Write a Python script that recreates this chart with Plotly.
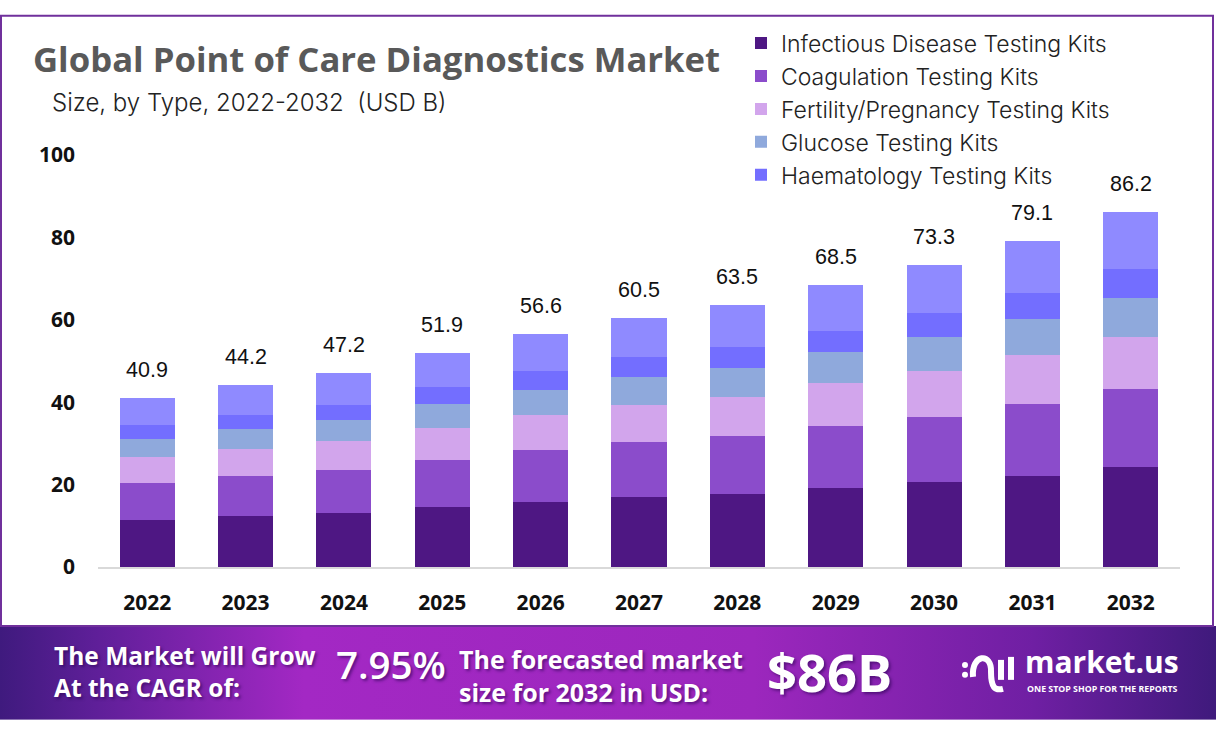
import base64
import plotly.graph_objects as go

W, H = 1216, 732
PL, PR, PT, PB = 98, 1180, 154.5, 567

years = ["2022", "2023", "2024", "2025", "2026", "2027", "2028", "2029", "2030", "2031", "2032"]
totals = [40.9, 44.2, 47.2, 51.9, 56.6, 60.5, 63.5, 68.5, 73.3, 79.1, 86.2]
infectious = [11.4, 12.4, 13.1, 14.5, 15.8, 17.0, 17.7, 19.2, 20.6, 22.1, 24.2]
coagulation = [9.0, 9.7, 10.4, 11.4, 12.6, 13.3, 14.1, 15.0, 15.8, 17.5, 18.9]
fertility = [6.3, 6.5, 7.0, 7.8, 8.5, 9.0, 9.5, 10.4, 11.2, 11.9, 12.8]
glucose = [4.4, 4.8, 5.3, 5.8, 6.1, 6.8, 7.0, 7.5, 8.2, 8.7, 9.5]
haematology = [3.4, 3.6, 3.6, 4.1, 4.6, 4.8, 5.1, 5.3, 5.8, 6.3, 7.0]
other = [6.4, 7.2, 7.8, 8.3, 9.0, 9.6, 10.1, 11.1, 11.7, 12.6, 13.8]

series = [
    ("Infectious Disease Testing Kits", infectious, "#4e1783", True),
    ("Coagulation Testing Kits", coagulation, "#8b4ccb", True),
    ("Fertility/Pregnancy Testing Kits", fertility, "#d2a5ec", True),
    ("Glucose Testing Kits", glucose, "#8fa9dc", True),
    ("Haematology Testing Kits", haematology, "#736eff", True),
    ("Other", other, "#8f8aff", False),
]


def px(x):
    return (x - PL) / (PR - PL)


def py(y):
    return (PB - y) / (PB - PT)


fig = go.Figure()
for name, vals, color, show in series:
    fig.add_trace(go.Bar(x=years, y=vals, name=name, marker=dict(color=color, line=dict(width=0)),
                         showlegend=show))

annotations = []
for i, tot in enumerate(totals):
    annotations.append(dict(x=i, y=tot, xref="x", yref="y", text=str(tot), showarrow=False,
                            yshift=28, font=dict(family="Liberation Sans", size=21.5, color="#111111")))


def note(x, y, text, size, family="Open Sans", color="#ffffff", weight=700, anchor="left", shadow=None):
    annotations.append(dict(x=px(x), y=py(y), xref="paper", yref="paper", text=text, showarrow=False,
                            xanchor=anchor, yanchor="middle", align="left", borderpad=0, borderwidth=0,
                            font=dict(family=family, size=size, color=color, weight=weight,
                                      **({"shadow": shadow} if shadow else {}))))


SH = "2px 2px 3px rgba(40,0,80,0.55)"
note(52, 102, "Size, by Type, 2022-2032  (USD B)", 24, "Inter", "#222222", 300)
note(54, 672, "The Market will Grow<br>At the CAGR of:", 24.5, shadow=SH)
note(336, 664, "7.95%", 38.5, weight=600, shadow=SH)
note(459, 676, "The forecasted market<br>size for 2032 in USD:", 25, shadow=SH)
note(767, 672, "$86B", 52.5, weight=700, shadow=SH)
note(1025, 662, "market.us", 30, weight=700)
note(1027, 689, "ONE STOP SHOP FOR THE REPORTS", 8.8, weight=700)

svg = (
    '<svg xmlns="http://www.w3.org/2000/svg" width="1216" height="94" preserveAspectRatio="none">'
    '<defs><linearGradient id="g" x1="0" x2="1" y1="0" y2="0">'
    '<stop offset="0" stop-color="#3f1a7e"/><stop offset="0.08" stop-color="#5f1f99"/>'
    '<stop offset="0.25" stop-color="#a328c4"/><stop offset="0.62" stop-color="#9c27bd"/>'
    '<stop offset="0.85" stop-color="#6f1fa3"/><stop offset="1" stop-color="#3f1a7c"/>'
    '</linearGradient></defs><rect width="1216" height="94" fill="url(#g)"/></svg>'
)
banner = "data:image/svg+xml;base64," + base64.b64encode(svg.encode()).decode()


def P(x, y):
    return f"{px(x):.5f},{py(y):.5f}"


shapes = [
    dict(type="rect", xref="paper", yref="paper", x0=px(1), x1=px(1213), y0=py(15), y1=py(626),
         line=dict(color="#70309c", width=2), fillcolor="rgba(0,0,0,0)", layer="below"),
]
logo_paths = [
    f"M{P(973, 677)} C{P(971, 654)} {P(992, 652)} {P(991, 672)} C{P(991, 688)} {P(995, 691)} {P(1003, 689)}",
    f"M{P(1001, 660)} L{P(1001, 680)}",
    f"M{P(1011, 657)} L{P(1011, 680)}",
]
for d in logo_paths:
    shapes.append(dict(type="path", xref="paper", yref="paper", path=d,
                       line=dict(color="#ffffff", width=6)))
for cy in (665, 675):
    shapes.append(dict(type="circle", xref="paper", yref="paper", x0=px(962), x1=px(968),
                       y0=py(cy - 3), y1=py(cy + 3), fillcolor="#ffffff", line=dict(width=0)))

fig.update_layout(
    width=W, height=H, autosize=False,
    margin=dict(l=PL, r=W - PR, t=PT, b=H - PB),
    paper_bgcolor="#ffffff", plot_bgcolor="#ffffff",
    barmode="stack", bargap=0.44,
    title=dict(text="Global Point of Care Diagnostics Market", x=33 / W, xref="container", xanchor="left",
               y=1 - 60 / H, yref="container", yanchor="middle",
               font=dict(family="Open Sans", size=34.7, color="#595959", weight=700)),
    xaxis=dict(type="category", range=[-0.5, 10.5], showgrid=False, showline=True, linecolor="#d9d9d9",
               linewidth=1.5, ticks="", ticklabelstandoff=16,
               tickfont=dict(family="Open Sans", size=21, color="#111111", weight=700)),
    yaxis=dict(range=[0, 100], dtick=20, showgrid=False, zeroline=False, showline=False, ticks="",
               ticklabelstandoff=22,
               tickfont=dict(family="Open Sans", size=21, color="#111111", weight=700)),
    legend=dict(x=px(741), xanchor="left", y=py(21), yanchor="top", orientation="v",
                traceorder="normal", bgcolor="rgba(0,0,0,0)",
                font=dict(family="Inter", size=23, color="#222222", weight=300)),
    annotations=annotations,
    shapes=shapes,
    images=[dict(source=banner, xref="paper", yref="paper", x=px(0), y=py(626), sizex=W / (PR - PL),
                 sizey=94 / (PB - PT), xanchor="left", yanchor="top", sizing="stretch", layer="below")],
    showlegend=True,
)

fig.write_html("out.html", config={"displayModeBar": False},
               post_script="document.body.style.margin='0';")
